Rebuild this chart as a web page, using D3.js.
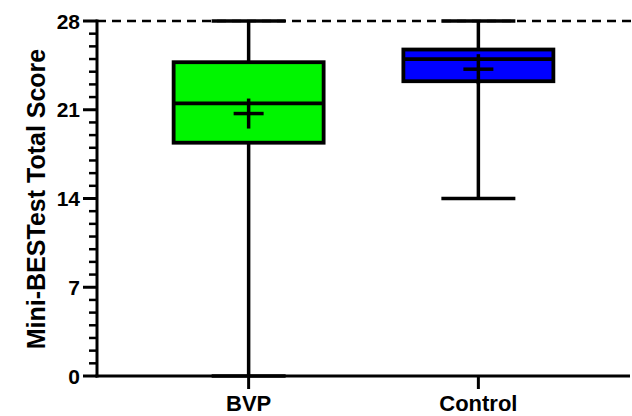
<!DOCTYPE html>
<html>
<head>
<meta charset="utf-8">
<script src="https://cdn.jsdelivr.net/npm/d3@7"></script>
<style>
  html, body { margin: 0; padding: 0; background: #fff; }
  svg { display: block; font-family: "Liberation Sans", Arial, sans-serif; }
</style>
</head>
<body>
<svg id="chart" width="632" height="416"></svg>
<script>
// ---- data ----
const groups   = ["BVP", "Control"];
const mins     = [0, 14];
const q1s      = [18.4, 23.25];
const medians  = [21.5, 25];
const q3s      = [24.75, 25.75];
const maxs     = [28, 28];
const means    = [20.7, 24.2];
const colors   = ["#00f500", "#0000ff"];
const yTicks   = [0, 7, 14, 21, 28];
const refLine  = [28];
const yTitle   = "Mini-BESTest Total Score";

// ---- layout ----
const svg = d3.select("#chart");
const xLeft = 97, xRight = 630, yTop = 21, yBottom = 376;

const y = d3.scaleLinear().domain([0, 28]).range([yBottom, yTop]);
const x = d3.scalePoint().domain(groups).range([xLeft, xRight]).padding(0.66);

const boxHalf = 75, capHalf = 37, crossHalf = 15;

const data = groups.map((g, i) => ({
  g, min: mins[i], q1: q1s[i], med: medians[i], q3: q3s[i], max: maxs[i], mean: means[i], color: colors[i]
}));

// reference dashed line
svg.selectAll(".ref").data(refLine).join("line")
  .attr("x1", xLeft).attr("x2", 632)
  .attr("y1", d => y(d)).attr("y2", d => y(d))
  .attr("stroke", "#000").attr("stroke-width", 2.5)
  .attr("stroke-dasharray", "9,6");

const gBox = svg.selectAll(".box").data(data).join("g").attr("class", "box");

// whiskers
gBox.append("line")
  .attr("x1", d => x(d.g)).attr("x2", d => x(d.g))
  .attr("y1", d => y(d.max)).attr("y2", d => y(d.q3))
  .attr("stroke", "#000").attr("stroke-width", 3.5);
gBox.append("line")
  .attr("x1", d => x(d.g)).attr("x2", d => x(d.g))
  .attr("y1", d => y(d.q1)).attr("y2", d => y(d.min))
  .attr("stroke", "#000").attr("stroke-width", 3.5);
// caps
gBox.append("line")
  .attr("x1", d => x(d.g) - capHalf).attr("x2", d => x(d.g) + capHalf)
  .attr("y1", d => y(d.max)).attr("y2", d => y(d.max))
  .attr("stroke", "#000").attr("stroke-width", 3.5);
gBox.append("line")
  .attr("x1", d => x(d.g) - capHalf).attr("x2", d => x(d.g) + capHalf)
  .attr("y1", d => y(d.min)).attr("y2", d => y(d.min))
  .attr("stroke", "#000").attr("stroke-width", 3.5);

// box
gBox.append("rect")
  .attr("x", d => x(d.g) - boxHalf).attr("width", boxHalf * 2)
  .attr("y", d => y(d.q3)).attr("height", d => y(d.q1) - y(d.q3))
  .attr("fill", d => d.color).attr("stroke", "#000").attr("stroke-width", 3.8);
// median
gBox.append("line")
  .attr("x1", d => x(d.g) - boxHalf).attr("x2", d => x(d.g) + boxHalf)
  .attr("y1", d => y(d.med)).attr("y2", d => y(d.med))
  .attr("stroke", "#000").attr("stroke-width", 3.8);
// mean cross
gBox.append("line")
  .attr("x1", d => x(d.g) - crossHalf).attr("x2", d => x(d.g) + crossHalf)
  .attr("y1", d => y(d.mean)).attr("y2", d => y(d.mean))
  .attr("stroke", "#000").attr("stroke-width", 3.5);
gBox.append("line")
  .attr("x1", d => x(d.g)).attr("x2", d => x(d.g))
  .attr("y1", d => y(d.mean) - crossHalf).attr("y2", d => y(d.mean) + crossHalf)
  .attr("stroke", "#000").attr("stroke-width", 3.5);

// y axis
const yAxisG = svg.append("g").attr("transform", `translate(${xLeft},0)`);
yAxisG.append("line").attr("x1", 0).attr("x2", 0).attr("y1", yTop - 1.5).attr("y2", yBottom + 1.5)
  .attr("stroke", "#000").attr("stroke-width", 3);
const minorVals = d3.range(0, 29, 1).filter(v => !yTicks.includes(v));
yAxisG.selectAll(".minor").data(minorVals).join("line")
  .attr("x1", -8).attr("x2", 0).attr("y1", d => y(d)).attr("y2", d => y(d))
  .attr("stroke", "#000").attr("stroke-width", 2.5);
yAxisG.selectAll(".major").data(yTicks).join("line")
  .attr("x1", -14).attr("x2", 0).attr("y1", d => y(d)).attr("y2", d => y(d))
  .attr("stroke", "#000").attr("stroke-width", 3);
yAxisG.selectAll(".ylab").data(yTicks).join("text")
  .attr("x", -17).attr("y", d => y(d)).attr("dy", "0.36em")
  .attr("text-anchor", "end").attr("font-weight", "bold").attr("font-size", 21)
  .text(d => d);

// x axis
const xAxisG = svg.append("g").attr("transform", `translate(0,${yBottom})`);
xAxisG.append("line").attr("x1", xLeft - 1.5).attr("x2", xRight).attr("y1", 0).attr("y2", 0)
  .attr("stroke", "#000").attr("stroke-width", 3);
xAxisG.selectAll(".xt").data(groups).join("line")
  .attr("x1", d => x(d)).attr("x2", d => x(d)).attr("y1", 0).attr("y2", 13)
  .attr("stroke", "#000").attr("stroke-width", 3);
xAxisG.selectAll(".xl").data(groups).join("text")
  .attr("x", d => x(d)).attr("y", 34.5)
  .attr("text-anchor", "middle").attr("font-weight", "bold").attr("font-size", 22)
  .text(d => d);

// y title
svg.append("text")
  .attr("transform", `translate(45,199) rotate(-90)`)
  .attr("text-anchor", "middle").attr("font-weight", "bold").attr("font-size", 25)
  .text(yTitle);
</script>
</body>
</html>
